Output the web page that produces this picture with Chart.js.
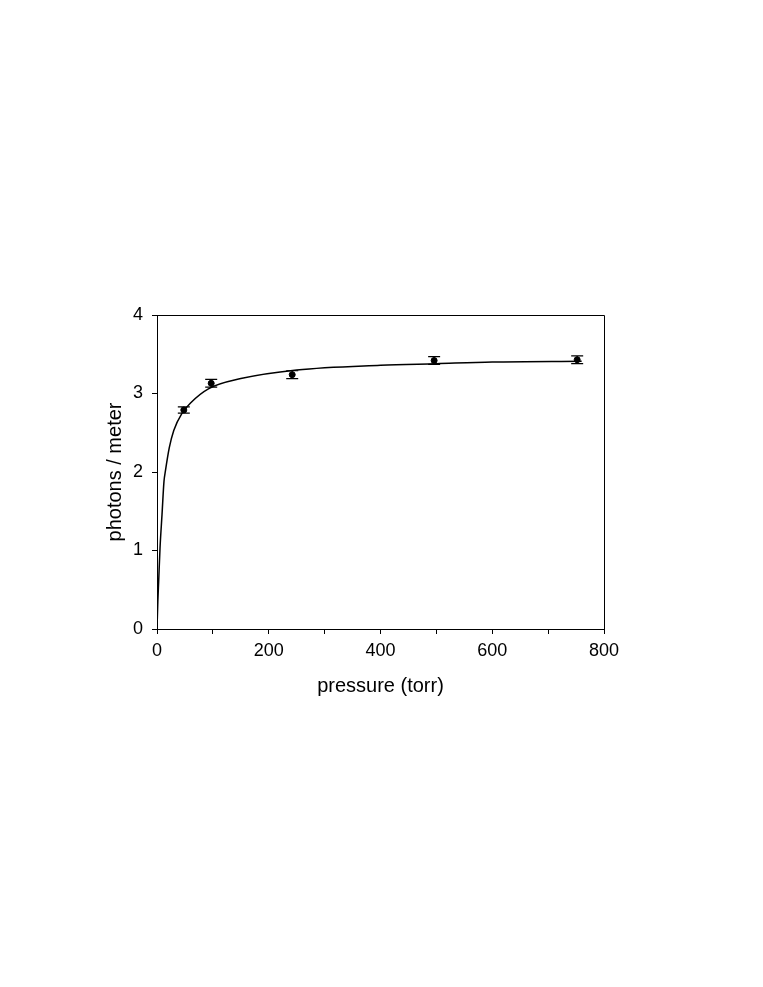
<!DOCTYPE html>
<html>
<head>
<meta charset="utf-8">
<script src="https://cdn.jsdelivr.net/npm/chart.js@4"></script>
<style>
  html, body { margin: 0; padding: 0; background: #fff; }
  #wrap { width: 763px; height: 987px; }
</style>
</head>
<body>
<div id="wrap"><canvas id="c" width="763" height="987"></canvas></div>
<script>
// Measured data points (pressure in torr, photons per meter) with error bars
const pressure = [48, 97, 242, 496, 752];
const photons = [2.79, 3.13, 3.24, 3.42, 3.43];
const photonErr = [0.04, 0.05, 0.05, 0.05, 0.05];

// Fitted curve
const fitPressure = [0, 1.5, 3, 5.4, 9, 12.5, 15, 22, 30, 45, 60, 92, 150, 250, 400, 500, 600, 760];
const fitPhotons = [0, 0.35, 0.61, 1.03, 1.46, 1.88, 2.01, 2.31, 2.53, 2.75, 2.88, 3.06, 3.19, 3.30, 3.36, 3.38, 3.40, 3.41];

// Axis labels
const xTitle = 'pressure (torr)';
const yTitle = 'photons / meter';
const xMajorLabels = [0, 200, 400, 600, 800];

const FONT = '"Liberation Sans", Arial, Helvetica, sans-serif';
const TICK_FONT = '"Liberation Sans Narrow", "Arial Narrow", "Liberation Sans", sans-serif';

const errorBars = {
  id: 'errorBars',
  afterDatasetsDraw(chart) {
    const ctx = chart.ctx;
    const xs = chart.scales.x, ys = chart.scales.y;
    ctx.save();
    ctx.strokeStyle = '#000';
    ctx.lineWidth = 1.2;
    pressure.forEach((p, i) => {
      const px = xs.getPixelForValue(p);
      const top = ys.getPixelForValue(photons[i] + photonErr[i]);
      const bot = ys.getPixelForValue(photons[i] - photonErr[i]);
      ctx.beginPath();
      ctx.moveTo(px, top); ctx.lineTo(px, bot);
      ctx.moveTo(px - 6, top); ctx.lineTo(px + 6, top);
      ctx.moveTo(px - 6, bot); ctx.lineTo(px + 6, bot);
      ctx.stroke();
    });
    ctx.restore();
  }
};

const frame = {
  id: 'frame',
  afterDraw(chart) {
    const a = chart.chartArea, ctx = chart.ctx;
    ctx.save();
    ctx.strokeStyle = '#000';
    ctx.lineWidth = 1;
    ctx.beginPath();
    ctx.moveTo(a.left, a.top + 0.5);
    ctx.lineTo(a.right + 0.5, a.top + 0.5);
    ctx.lineTo(a.right + 0.5, a.bottom);
    ctx.stroke();
    ctx.restore();
  }
};

new Chart(document.getElementById('c'), {
  type: 'scatter',
  data: {
    datasets: [
      {
        type: 'line',
        data: fitPressure.map((x, i) => ({ x: x, y: fitPhotons[i] })),
        borderColor: '#000',
        borderWidth: 1.5,
        pointRadius: 0,
        cubicInterpolationMode: 'monotone',
        fill: false
      },
      {
        data: pressure.map((x, i) => ({ x: x, y: photons[i] })),
        backgroundColor: '#000',
        borderColor: '#000',
        pointRadius: 3,
        pointStyle: 'circle'
      }
    ]
  },
  options: {
    responsive: false,
    animation: false,
    events: [],
    layout: { padding: { left: 100, right: 159, top: 315, bottom: 283 } },
    plugins: { legend: { display: false }, tooltip: { enabled: false }, title: { display: false } },
    scales: {
      x: {
        type: 'linear',
        min: 0, max: 800,
        afterFit(s) { s.height = 75; },
        border: { display: true, color: '#000', width: 1 },
        grid: { drawOnChartArea: false, drawTicks: true, tickLength: 5, tickColor: '#000', tickWidth: 1 },
        ticks: {
          stepSize: 100,
          autoSkip: false,
          maxRotation: 0,
          padding: 6,
          color: '#000',
          font: { family: TICK_FONT, size: 18 },
          callback: (v) => xMajorLabels.includes(v) ? String(v) : ''
        },
        title: { display: true, text: xTitle, color: '#000', font: { family: FONT, size: 20 }, padding: { top: 0, bottom: 6 } }
      },
      y: {
        type: 'linear',
        min: 0, max: 4,
        afterFit(s) { s.width = 57; },
        border: { display: true, color: '#000', width: 1 },
        grid: { drawOnChartArea: false, drawTicks: true, tickLength: 5, tickColor: '#000', tickWidth: 1 },
        ticks: {
          stepSize: 1,
          padding: 9,
          color: '#000',
          font: { family: TICK_FONT, size: 18 }
        },
        title: { display: true, text: yTitle, color: '#000', font: { family: FONT, size: 20 }, padding: { top: 3, bottom: 0 } }
      }
    }
  },
  plugins: [errorBars, frame]
});
</script>
</body>
</html>
